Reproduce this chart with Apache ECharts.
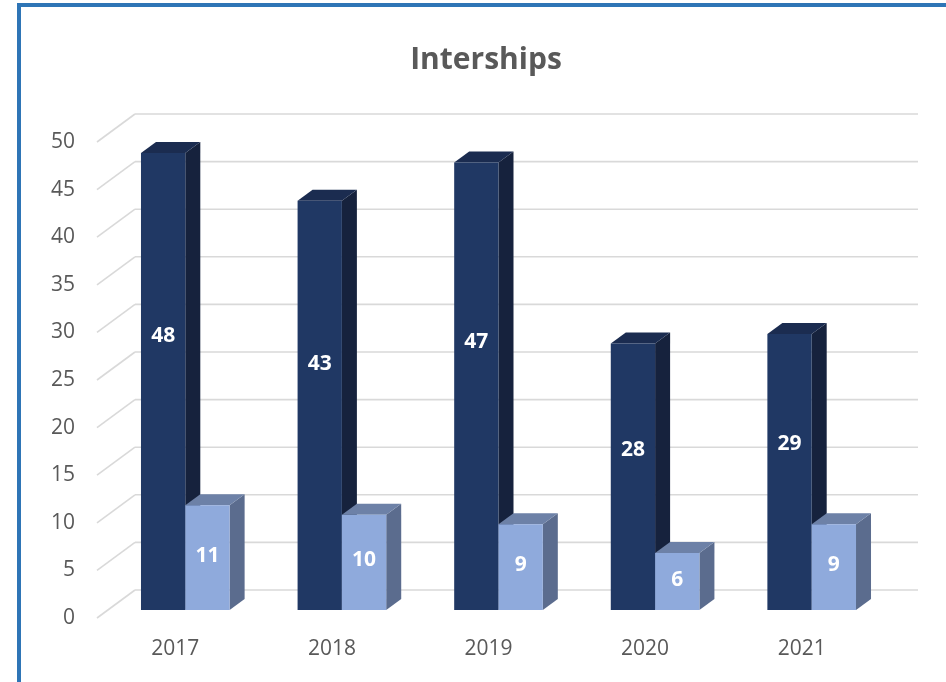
<!DOCTYPE html>
<html>
<head>
<meta charset="utf-8">
<script src="https://cdn.jsdelivr.net/npm/echarts@6/dist/echarts.min.js"></script>
<style>
  html, body { margin: 0; padding: 0; background: #fff; }
  #chart { width: 946px; height: 682px; }
</style>
</head>
<body>
<div id="chart"></div>
<script>
const years = ["2017", "2018", "2019", "2020", "2021"];
const darkValues = [48, 43, 47, 28, 29];
const lightValues = [11, 10, 9, 6, 9];
const yTicks = [0, 5, 10, 15, 20, 25, 30, 35, 40, 45, 50];

// 3d look, in pixels
const WALL_DX = 38, WALL_DY = -28;
const PLANE_DX = 10, PLANE_DY = -8;
const DEPTH_DX = 15, DEPTH_DY = -11;

const chart = echarts.init(document.getElementById("chart"), null, { renderer: "canvas" });

function gridLines(params, api) {
  const v = api.value(1);
  const bw = api.size([1, 0])[0];
  const first = api.coord([0, v]);
  const last = api.coord([years.length - 1, v]);
  const x0 = first[0] - bw / 2;
  const x1 = last[0] + bw / 2;
  const y = first[1];
  const style = { stroke: "#d9d9d9", lineWidth: 1.6 };
  return {
    type: "group",
    children: [
      { type: "line", shape: { x1: x0, y1: y, x2: x0 + WALL_DX, y2: y + WALL_DY }, style: style },
      { type: "line", shape: { x1: x0 + WALL_DX, y1: y + WALL_DY, x2: x1 + WALL_DX, y2: y + WALL_DY }, style: style },
    ],
  };
}

function makeBar(colors, side, labelFrac) {
  return function (params, api) {
    const i = api.value(0);
    const v = api.value(1);
    const base = api.coord([i, 0]);
    const top = api.coord([i, v]);
    const bw = api.size([1, 0])[0];
    const w = bw * 0.283;
    const cx = base[0] + PLANE_DX;
    const x0 = side < 0 ? cx - w : cx;
    const x1 = side < 0 ? cx : cx + w;
    const y0 = base[1] + PLANE_DY;
    const y1 = top[1] + PLANE_DY;
    return {
      type: "group",
      children: [
        {
          type: "polygon",
          shape: { points: [[x1, y0], [x1, y1], [x1 + DEPTH_DX, y1 + DEPTH_DY], [x1 + DEPTH_DX, y0 + DEPTH_DY]] },
          style: { fill: colors.side },
        },
        {
          type: "polygon",
          shape: { points: [[x0, y1], [x1, y1], [x1 + DEPTH_DX, y1 + DEPTH_DY], [x0 + DEPTH_DX, y1 + DEPTH_DY]] },
          style: { fill: colors.top },
        },
        {
          type: "rect",
          shape: { x: x0, y: y1, width: x1 - x0, height: y0 - y1 },
          style: { fill: colors.front },
        },
        {
          type: "text",
          x: (x0 + x1) / 2,
          y: y0 - (y0 - y1) * labelFrac,
          style: {
            text: String(v),
            fill: "#ffffff",
            font: "bold 21px 'Open Sans', sans-serif",
            align: "center",
            verticalAlign: "middle",
          },
        },
      ],
    };
  };
}

const option = {
  backgroundColor: "#ffffff",
  animation: false,
  title: {
    text: "Interships",
    left: 481,
    textAlign: "center",
    top: 40,
    textStyle: {
      fontFamily: "'Open Sans', sans-serif",
      fontWeight: "bold",
      fontSize: 30,
      color: "#595959",
    },
  },
  graphic: [
    {
      type: "rect",
      shape: { x: 19, y: 5, width: 1200, height: 1200 },
      style: { fill: "none", stroke: "#2e75b6", lineWidth: 4 },
      z: 100,
    },
  ],
  grid: { left: 97, right: 66, top: 142, bottom: 64 },
  xAxis: {
    type: "category",
    data: years,
    axisLine: { show: false },
    axisTick: { show: false },
    axisLabel: {
      margin: 21,
      fontSize: 21,
      fontFamily: "'Open Sans', sans-serif",
      color: "#595959",
    },
  },
  yAxis: {
    type: "value",
    min: 0,
    max: 50,
    interval: 5,
    splitLine: { show: false },
    axisLine: { show: false },
    axisTick: { show: false },
    axisLabel: {
      margin: 22,
      fontSize: 21,
      fontFamily: "'Open Sans', sans-serif",
      color: "#595959",
    },
  },
  series: [
    {
      type: "custom",
      renderItem: gridLines,
      data: yTicks.map((t) => [0, t]),
      silent: true,
      z: 1,
    },
    {
      type: "custom",
      renderItem: makeBar({ front: "#203864", side: "#16223d", top: "#1b2c50" }, -1, 0.6),
      data: darkValues.map((v, i) => [i, v]),
      z: 2,
    },
    {
      type: "custom",
      renderItem: makeBar({ front: "#8faadc", side: "#5b6c8e", top: "#6d81a7" }, 1, 0.52),
      data: lightValues.map((v, i) => [i, v]),
      z: 3,
    },
  ],
};

chart.setOption(option);
</script>
</body>
</html>
